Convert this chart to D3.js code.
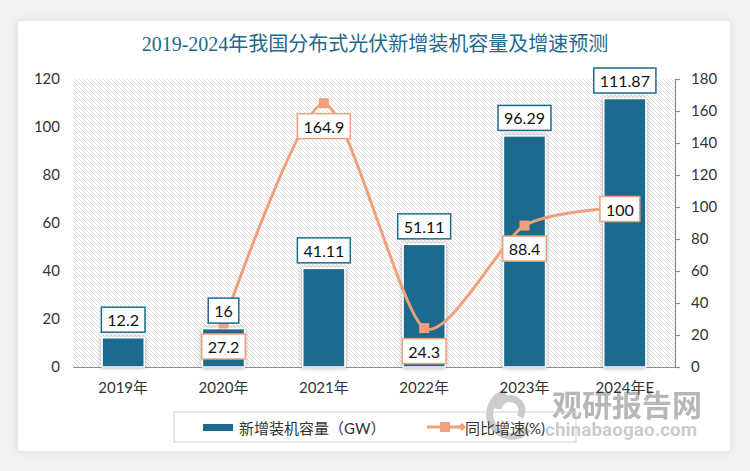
<!DOCTYPE html>
<html>
<head>
<meta charset="utf-8">
<script src="https://cdn.jsdelivr.net/npm/d3@7"></script>
<style>
  body { margin: 0; background: #f2f2f2; }
  svg { display: block; }
</style>
</head>
<body>
<script>
var years = ['2019年', '2020年', '2021年', '2022年', '2023年', '2024年E'];
var capacity = [12.2, 16, 41.11, 51.11, 96.29, 111.87];
var growth = [null, 27.2, 164.9, 24.3, 88.4, 100];
var leftTicks = [0, 20, 40, 60, 80, 100, 120];
var rightTicks = [0, 20, 40, 60, 80, 100, 120, 140, 160, 180];

var W = 750, H = 471;
var plot = {left: 73, right: 675, top: 79, bottom: 367};
var blue = '#1d6a8e', orange = '#f0a07c';
var font = 'Lato, "Noto Sans CJK SC", sans-serif';

var svg = d3.select('body').append('svg')
  .attr('width', W)
  .attr('height', H);

var defs = svg.append('defs');

var cardShadow = defs.append('filter').attr('id', 'cardShadow')
  .attr('x', '-5%').attr('y', '-5%').attr('width', '110%').attr('height', '110%');
cardShadow.append('feDropShadow')
  .attr('dx', 0).attr('dy', 0).attr('stdDeviation', 4)
  .attr('flood-color', '#000').attr('flood-opacity', 0.12);

var barShadow = defs.append('filter').attr('id', 'barShadow')
  .attr('x', '-40%').attr('y', '-10%').attr('width', '180%').attr('height', '120%');
barShadow.append('feDropShadow')
  .attr('dx', 0).attr('dy', 0).attr('stdDeviation', 2.5)
  .attr('flood-color', '#000').attr('flood-opacity', 0.35);

var hatch = defs.append('pattern').attr('id', 'hatch')
  .attr('patternUnits', 'userSpaceOnUse')
  .attr('width', 4).attr('height', 4);
hatch.append('rect').attr('width', 4).attr('height', 4).attr('fill', '#fff');
hatch.append('path')
  .attr('d', 'M-1,-1 L5,5 M3,-1 L5,1 M-1,3 L1,5')
  .attr('stroke', '#d6d6d6')
  .attr('stroke-width', 0.8);

// card
svg.append('rect')
  .attr('x', 18).attr('y', 21)
  .attr('width', 712).attr('height', 430)
  .attr('rx', 3)
  .attr('fill', '#fff')
  .attr('filter', 'url(#cardShadow)');

// title
svg.append('text')
  .attr('x', 375).attr('y', 51)
  .attr('text-anchor', 'middle')
  .style('font-family', '"Liberation Serif", "Noto Sans CJK SC", serif')
  .style('font-size', '20px')
  .attr('fill', blue)
  .text('2019-2024年我国分布式光伏新增装机容量及增速预测');

var x = d3.scaleBand()
  .domain(years)
  .range([plot.left, plot.right])
  .paddingInner(0.58)
  .paddingOuter(0.29);

var yL = d3.scaleLinear().domain([0, 120]).range([plot.bottom, plot.top]);
var yR = d3.scaleLinear().domain([0, 180]).range([plot.bottom, plot.top]);

// plot background
svg.append('rect')
  .attr('x', plot.left).attr('y', plot.top)
  .attr('width', plot.right - plot.left)
  .attr('height', plot.bottom - plot.top)
  .attr('fill', 'url(#hatch)');

// watermark
var wm = svg.append('g').attr('opacity', 0.6);
wm.append('path')
  .attr('d', 'M506,393 a22,22 0 1,0 22,36 M498,409 a12,12 0 1,1 22,8')
  .attr('fill', 'none').attr('stroke', '#aaa').attr('stroke-width', 7);
wm.append('text')
  .attr('x', 552).attr('y', 416)
  .style('font-family', '"Noto Sans CJK SC", sans-serif')
  .style('font-size', '30px').style('font-weight', 'bold')
  .attr('fill', '#888')
  .text('观研报告网');
wm.append('text')
  .attr('x', 545).attr('y', 436)
  .style('font-family', 'Roboto, sans-serif')
  .style('font-size', '19px').style('font-weight', 'bold')
  .attr('fill', '#aaa')
  .text('chinabaogao.com');

// axes
var axisL = d3.axisLeft(yL).tickValues(leftTicks).tickSize(0).tickPadding(13);
var gL = svg.append('g')
  .attr('transform', 'translate(' + plot.left + ',0)')
  .call(axisL);
gL.select('.domain').remove();

var axisR = d3.axisRight(yR).tickValues(rightTicks).tickSizeInner(5).tickSizeOuter(5).tickPadding(11);
var gR = svg.append('g')
  .attr('transform', 'translate(' + plot.right + ',0)')
  .call(axisR);
gR.selectAll('line, .domain').attr('stroke', '#8c8c8c').attr('stroke-width', 1.2);

var axisB = d3.axisBottom(x).tickSize(0).tickPadding(15);
var gB = svg.append('g')
  .attr('transform', 'translate(0,' + plot.bottom + ')')
  .call(axisB);
gB.select('.domain').attr('stroke', '#8c8c8c').attr('stroke-width', 1.2);

svg.selectAll('.tick text')
  .style('font-family', font)
  .style('font-size', '15px')
  .attr('fill', '#333');

// bars
svg.append('g').selectAll('rect')
  .data(capacity)
  .enter()
  .append('rect')
  .attr('x', function(d, i) { return x(years[i]); })
  .attr('y', function(d) { return yL(d); })
  .attr('width', x.bandwidth())
  .attr('height', function(d) { return yL(0) - yL(d); })
  .attr('fill', blue)
  .attr('stroke', '#fff')
  .attr('stroke-width', 1.5)
  .attr('filter', 'url(#barShadow)');

// line
var pts = [];
growth.forEach(function(d, i) {
  if (d != null) pts.push({x: x(years[i]) + x.bandwidth() / 2, y: yR(d), v: d});
});

var line = d3.line()
  .x(function(d) { return d.x; })
  .y(function(d) { return d.y; })
  .curve(d3.curveCardinal.tension(0.3));

svg.append('path')
  .datum(pts)
  .attr('d', line)
  .attr('fill', 'none')
  .attr('stroke', orange)
  .attr('stroke-width', 3);

svg.append('g').selectAll('rect')
  .data(pts)
  .enter()
  .append('rect')
  .attr('x', function(d) { return d.x - 5; })
  .attr('y', function(d) { return d.y - 5; })
  .attr('width', 10).attr('height', 10)
  .attr('fill', orange);

// label boxes
function labelBox(g, cx, cy, txt, color) {
  var t = g.append('text')
    .attr('x', cx).attr('y', cy)
    .attr('text-anchor', 'middle')
    .attr('dominant-baseline', 'central')
    .style('font-family', font)
    .style('font-size', '16px')
    .attr('fill', '#111')
    .text(txt);
  var w = t.node().getComputedTextLength() + 12;
  g.insert('rect', 'text')
    .attr('x', cx - w / 2).attr('y', cy - 12.5)
    .attr('width', w).attr('height', 25)
    .attr('fill', '#fff')
    .attr('stroke', color)
    .attr('stroke-width', 1.5);
}

capacity.forEach(function(d, i) {
  var g = svg.append('g');
  labelBox(g, x(years[i]) + x.bandwidth() / 2, yL(d) - 18, String(d), blue);
});

pts.forEach(function(p, i) {
  var g = svg.append('g');
  if (i === pts.length - 1) labelBox(g, p.x - 5, p.y + 2, String(p.v), orange);
  else labelBox(g, p.x, p.y + 23, String(p.v), orange);
});

// legend
var lg = svg.append('g');
lg.append('rect')
  .attr('x', 174).attr('y', 412)
  .attr('width', 402).attr('height', 30)
  .attr('fill', 'none')
  .attr('stroke', '#d0d0d0');
lg.append('rect')
  .attr('x', 203).attr('y', 424)
  .attr('width', 30).attr('height', 7)
  .attr('fill', blue);
lg.append('text')
  .attr('x', 239).attr('y', 428)
  .attr('dominant-baseline', 'central')
  .style('font-family', font)
  .style('font-size', '15px')
  .attr('fill', '#333')
  .text('新增装机容量（GW）');
lg.append('line')
  .attr('x1', 427).attr('x2', 462)
  .attr('y1', 427).attr('y2', 427)
  .attr('stroke', orange).attr('stroke-width', 3);
lg.append('rect')
  .attr('x', 440).attr('y', 422)
  .attr('width', 10).attr('height', 10)
  .attr('fill', orange);
lg.append('path')
  .attr('d', 'M458,427 l4,-4 l4,4 l-4,4 z')
  .attr('fill', orange);
lg.append('text')
  .attr('x', 465).attr('y', 428)
  .attr('dominant-baseline', 'central')
  .style('font-family', font)
  .style('font-size', '15px')
  .attr('fill', '#333')
  .text('同比增速(%)');
</script>
</body>
</html>
